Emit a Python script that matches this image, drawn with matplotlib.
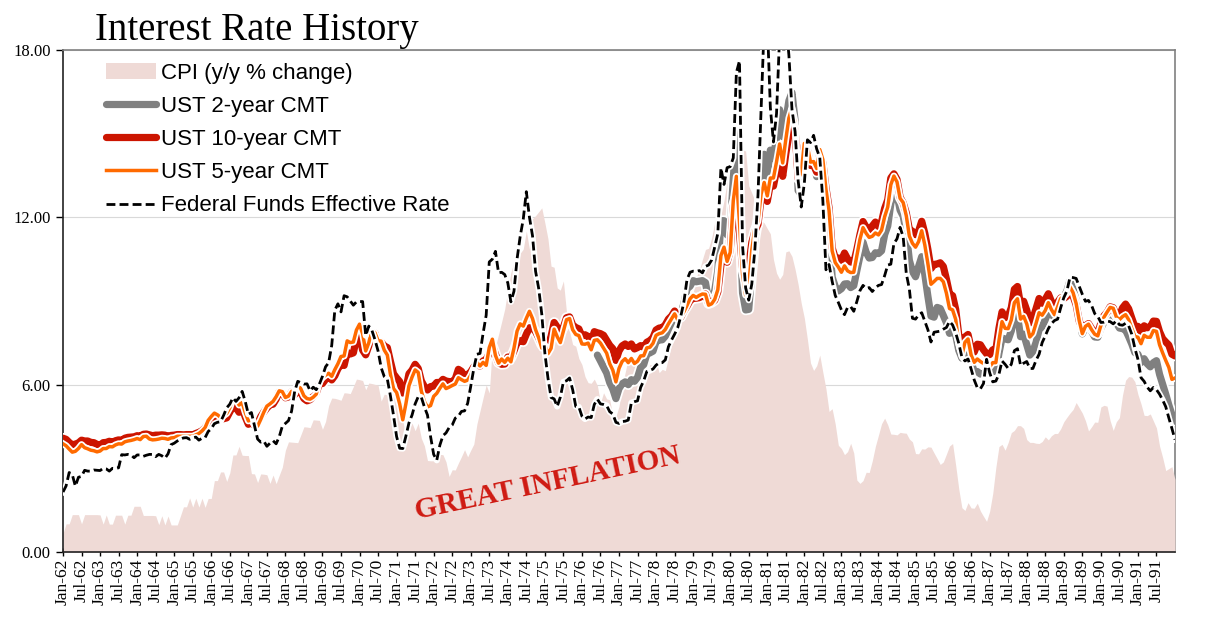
import numpy as np
import matplotlib
matplotlib.use("Agg")
import matplotlib.pyplot as plt
import matplotlib.patheffects as pe

# monthly values, Jan-62 .. Jan-92
cpi = [
    0.67, 1.01, 1.01, 1.34, 1.34, 1.34, 1.01, 1.34, 1.34, 1.34, 1.34, 1.34,  # 62
    1.33, 1.00, 1.33, 1.00, 1.00, 1.32, 1.32, 1.32, 1.00, 1.32, 1.32, 1.64,  # 63
    1.64, 1.64, 1.31, 1.31, 1.31, 1.31, 1.30, 0.98, 1.30, 0.97, 1.29, 0.97,  # 64
    0.97, 0.97, 1.29, 1.62, 1.62, 1.94, 1.61, 1.93, 1.61, 1.93, 1.60, 1.92,  # 65
    1.92, 2.56, 2.56, 2.87, 2.87, 2.53, 2.84, 3.48, 3.48, 3.79, 3.47, 3.46,  # 66
    3.46, 2.81, 2.80, 2.49, 2.80, 2.79, 2.77, 2.46, 2.76, 2.45, 2.75, 3.04,  # 67
    3.65, 3.95, 3.94, 3.93, 3.92, 4.20, 4.49, 4.48, 4.46, 4.74, 4.73, 4.72,  # 68
    4.40, 4.68, 5.25, 5.52, 5.51, 5.48, 5.44, 5.71, 5.70, 5.68, 5.93, 6.20,  # 69
    6.18, 6.15, 5.82, 6.06, 6.04, 6.01, 5.98, 5.41, 5.66, 5.63, 5.60, 5.57,  # 70
    5.29, 5.00, 4.71, 4.16, 4.40, 4.62, 4.35, 4.62, 4.08, 3.81, 3.28, 3.27,  # 71
    3.27, 3.51, 3.50, 3.49, 3.23, 2.71, 2.95, 2.94, 3.19, 3.42, 3.67, 3.41,  # 72
    3.65, 3.87, 4.59, 5.06, 5.53, 5.99, 5.70, 7.38, 7.36, 7.80, 8.25, 8.71,  # 73
    9.39, 10.02, 10.39, 10.09, 10.71, 10.86, 11.51, 10.86, 11.95, 12.06, 12.20, 12.34,  # 74
    11.80, 11.23, 10.25, 10.21, 9.47, 9.39, 9.72, 8.60, 7.91, 7.44, 7.38, 6.94,  # 75
    6.72, 6.29, 6.07, 6.05, 6.20, 5.97, 5.35, 5.71, 5.49, 5.46, 4.88, 4.86,  # 76
    5.22, 5.91, 6.44, 6.95, 6.73, 6.87, 6.83, 6.62, 6.60, 6.39, 6.72, 6.70,  # 77
    6.84, 6.43, 6.55, 6.50, 6.97, 7.41, 7.70, 7.86, 8.31, 8.93, 8.89, 9.02,  # 78
    9.28, 9.86, 10.09, 10.49, 10.85, 10.89, 11.26, 11.82, 12.18, 12.07, 12.61, 13.29,  # 79
    13.91, 14.18, 14.40, 14.50, 14.41, 14.38, 13.13, 12.87, 12.60, 12.20, 11.90, 11.80,  # 80
    11.60, 11.41, 10.49, 10.00, 9.78, 9.95, 10.76, 10.80, 10.60, 10.14, 9.59, 8.92,  # 81
    8.39, 7.62, 6.78, 6.51, 6.68, 7.06, 6.44, 5.85, 5.04, 5.14, 4.59, 3.83,  # 82
    3.71, 3.49, 3.60, 3.90, 3.55, 2.58, 2.46, 2.56, 2.86, 2.85, 3.27, 3.79,  # 83
    4.19, 4.60, 4.80, 4.56, 4.23, 4.22, 4.20, 4.29, 4.27, 4.26, 4.05, 3.95,  # 84
    3.53, 3.52, 3.70, 3.69, 3.77, 3.76, 3.55, 3.35, 3.14, 3.23, 3.51, 3.80,  # 85
    3.89, 3.11, 2.26, 1.59, 1.49, 1.77, 1.58, 1.57, 1.75, 1.47, 1.28, 1.10,  # 86
    1.46, 2.10, 3.03, 3.78, 3.86, 3.65, 3.93, 4.28, 4.36, 4.53, 4.53, 4.43,  # 87
    4.03, 3.93, 3.93, 3.90, 3.89, 3.96, 4.13, 4.02, 4.17, 4.25, 4.25, 4.42,  # 88
    4.67, 4.83, 4.98, 5.11, 5.36, 5.17, 4.98, 4.71, 4.34, 4.49, 4.66, 4.65,  # 89
    5.20, 5.26, 5.23, 4.71, 4.36, 4.67, 4.82, 5.62, 6.16, 6.29, 6.27, 6.11,  # 90
    5.65, 5.31, 4.90, 4.89, 4.95, 4.70, 4.45, 3.80, 3.39, 2.92, 2.99, 3.06,  # 91
    2.60,
]

fed_funds = [
    2.15, 2.37, 2.85, 2.78, 2.36, 2.68, 2.71, 2.93, 2.90, 2.90, 2.94, 2.93,
    2.92, 3.00, 2.98, 2.90, 3.00, 2.99, 3.02, 3.49, 3.48, 3.50, 3.48, 3.38,
    3.48, 3.48, 3.43, 3.47, 3.50, 3.50, 3.42, 3.50, 3.45, 3.36, 3.52, 3.85,
    3.90, 3.98, 4.04, 4.09, 4.10, 4.04, 4.09, 4.12, 4.01, 4.08, 4.10, 4.32,
    4.42, 4.60, 4.65, 4.67, 4.90, 5.17, 5.30, 5.53, 5.40, 5.53, 5.76, 5.40,
    4.94, 5.00, 4.53, 4.05, 3.94, 3.98, 3.79, 3.90, 3.99, 3.88, 4.13, 4.51,
    4.61, 4.71, 5.05, 5.76, 6.12, 6.07, 6.02, 6.03, 5.78, 5.91, 5.82, 6.02,
    6.30, 6.64, 6.79, 7.41, 8.67, 8.90, 8.61, 9.19, 9.15, 9.00, 8.85, 8.97,
    8.98, 8.98, 7.76, 8.10, 7.95, 7.61, 7.21, 6.61, 6.29, 6.20, 5.60, 4.90,
    4.14, 3.72, 3.71, 4.15, 4.63, 4.91, 5.31, 5.57, 5.55, 5.20, 4.91, 4.14,
    3.50, 3.29, 3.83, 4.17, 4.27, 4.46, 4.55, 4.80, 4.87, 5.04, 5.06, 5.33,
    5.94, 6.58, 7.09, 7.12, 7.84, 8.49, 10.40, 10.50, 10.78, 10.01, 10.03, 9.95,
    9.65, 8.97, 9.35, 10.51, 11.31, 11.93, 12.92, 12.01, 11.34, 10.06, 9.45, 8.53,
    7.13, 6.24, 5.54, 5.49, 5.22, 5.55, 6.10, 6.14, 6.24, 5.82, 5.22, 5.20,
    4.87, 4.77, 4.84, 4.82, 5.29, 5.48, 5.31, 5.29, 5.25, 5.03, 4.95, 4.65,
    4.61, 4.68, 4.69, 4.73, 5.35, 5.39, 5.42, 5.90, 6.14, 6.47, 6.51, 6.56,
    6.70, 6.78, 6.79, 6.89, 7.36, 7.60, 7.81, 8.04, 8.45, 8.96, 9.76, 10.03,
    10.07, 10.06, 10.09, 10.01, 10.24, 10.29, 10.47, 10.94, 11.43, 13.77, 13.18, 13.78,
    13.82, 14.13, 17.19, 17.61, 10.98, 9.47, 9.03, 9.61, 10.87, 12.81, 15.85, 18.90,
    19.08, 15.93, 14.70, 15.72, 18.52, 19.10, 19.04, 17.82, 15.87, 15.08, 13.31, 12.37,
    13.22, 14.78, 14.68, 14.94, 14.45, 14.15, 12.59, 10.12, 10.31, 9.71, 9.20, 8.95,
    8.68, 8.51, 8.77, 8.80, 8.63, 8.98, 9.37, 9.56, 9.45, 9.48, 9.34, 9.47,
    9.56, 9.59, 9.91, 10.29, 10.32, 11.06, 11.23, 11.64, 11.30, 9.99, 9.43, 8.38,
    8.35, 8.50, 8.58, 8.27, 7.97, 7.53, 7.88, 7.90, 7.92, 7.99, 8.05, 8.27,
    8.14, 7.86, 7.48, 6.99, 6.85, 6.92, 6.56, 6.17, 5.89, 5.85, 6.04, 6.91,
    6.43, 6.10, 6.13, 6.37, 6.85, 6.73, 6.58, 6.73, 7.22, 7.29, 6.69, 6.77,
    6.83, 6.58, 6.58, 6.87, 7.09, 7.51, 7.75, 8.01, 8.19, 8.30, 8.35, 8.76,
    9.12, 9.36, 9.85, 9.84, 9.81, 9.53, 9.24, 8.99, 9.02, 8.84, 8.55, 8.45,
    8.23, 8.24, 8.28, 8.26, 8.18, 8.29, 8.15, 8.13, 8.20, 8.11, 7.81, 7.31,
    6.91, 6.25, 6.12, 5.91, 5.78, 5.90, 5.82, 5.66, 5.45, 5.21, 4.81, 4.43,
    4.03,
]

ust10 = [
    4.08, 4.04, 3.93, 3.84, 3.87, 3.91, 4.01, 3.98, 3.98, 3.93, 3.92, 3.86,
    3.83, 3.92, 3.93, 3.97, 3.93, 3.99, 4.02, 4.00, 4.08, 4.11, 4.12, 4.13,
    4.17, 4.15, 4.22, 4.23, 4.20, 4.17, 4.19, 4.19, 4.20, 4.19, 4.15, 4.18,
    4.19, 4.21, 4.21, 4.20, 4.21, 4.21, 4.20, 4.25, 4.29, 4.35, 4.45, 4.62,
    4.61, 4.83, 4.87, 4.75, 4.78, 4.81, 5.02, 5.22, 5.18, 5.01, 5.16, 4.84,
    4.58, 4.63, 4.54, 4.59, 4.85, 5.02, 5.16, 5.28, 5.30, 5.48, 5.75, 5.70,
    5.53, 5.56, 5.74, 5.64, 5.87, 5.72, 5.50, 5.42, 5.46, 5.58, 5.70, 6.03,
    6.04, 6.19, 6.30, 6.17, 6.32, 6.57, 6.72, 6.69, 7.16, 7.10, 7.14, 7.65,
    7.79, 7.24, 7.07, 7.39, 7.91, 7.84, 7.46, 7.53, 7.39, 7.33, 6.84, 6.39,
    6.24, 6.11, 5.70, 5.83, 6.39, 6.52, 6.73, 6.58, 6.14, 5.93, 5.81, 5.93,
    5.95, 6.08, 6.07, 6.19, 6.13, 6.11, 6.11, 6.21, 6.55, 6.48, 6.28, 6.36,
    6.46, 6.64, 6.71, 6.67, 6.85, 6.90, 7.13, 7.40, 7.09, 6.79, 6.73, 6.74,
    6.99, 6.96, 7.21, 7.51, 7.58, 7.54, 7.81, 8.04, 8.04, 7.90, 7.68, 7.43,
    7.50, 7.39, 7.73, 8.23, 8.06, 7.86, 8.06, 8.40, 8.43, 8.14, 8.05, 8.00,
    7.74, 7.79, 7.73, 7.56, 7.90, 7.86, 7.83, 7.77, 7.59, 7.41, 7.29, 6.87,
    7.21, 7.39, 7.46, 7.37, 7.46, 7.28, 7.33, 7.40, 7.34, 7.52, 7.58, 7.69,
    7.96, 8.03, 8.04, 8.15, 8.35, 8.46, 8.64, 8.41, 8.42, 8.64, 8.81, 9.01,
    9.10, 9.10, 9.12, 9.18, 9.25, 8.91, 8.95, 9.03, 9.33, 10.30, 10.65, 10.39,
    10.80, 12.41, 12.75, 11.47, 10.18, 9.78, 10.25, 11.10, 11.51, 11.75, 12.68, 12.84,
    12.57, 13.19, 13.12, 13.68, 14.10, 13.47, 14.28, 14.94, 15.32, 15.15, 13.39, 13.72,
    14.59, 14.43, 13.86, 13.87, 13.62, 14.30, 13.95, 13.06, 12.34, 10.91, 10.55, 10.54,
    10.46, 10.72, 10.51, 10.40, 10.38, 10.85, 11.38, 11.85, 11.65, 11.54, 11.69, 11.83,
    11.67, 11.84, 12.32, 12.63, 13.41, 13.56, 13.36, 12.72, 12.52, 12.16, 11.57, 11.50,
    11.38, 11.51, 11.86, 11.43, 10.85, 10.16, 10.31, 10.33, 10.37, 10.24, 9.78, 9.26,
    9.19, 8.70, 7.78, 7.30, 7.71, 7.80, 7.30, 7.17, 7.45, 7.43, 7.25, 7.11,
    7.08, 7.25, 7.25, 8.02, 8.61, 8.40, 8.45, 8.76, 9.42, 9.52, 8.86, 8.99,
    8.67, 8.21, 8.37, 8.72, 9.09, 8.92, 9.06, 9.26, 8.98, 8.80, 8.96, 9.11,
    9.09, 9.17, 9.36, 9.18, 8.86, 8.28, 8.02, 8.11, 8.19, 8.01, 7.87, 7.84,
    8.21, 8.47, 8.59, 8.79, 8.76, 8.48, 8.47, 8.75, 8.89, 8.72, 8.39, 8.08,
    8.09, 7.85, 8.11, 8.04, 8.07, 8.28, 8.27, 7.90, 7.65, 7.53, 7.42, 7.09,
    7.03,
]

ust5 = [
    3.88, 3.81, 3.69, 3.58, 3.61, 3.71, 3.85, 3.74, 3.70, 3.65, 3.63, 3.59,
    3.62, 3.71, 3.71, 3.78, 3.77, 3.84, 3.88, 3.87, 3.95, 3.98, 4.00, 4.03,
    4.07, 4.03, 4.14, 4.15, 4.05, 4.02, 4.03, 4.05, 4.08, 4.07, 4.04, 4.09,
    4.10, 4.15, 4.15, 4.15, 4.15, 4.15, 4.15, 4.20, 4.25, 4.34, 4.46, 4.72,
    4.86, 4.98, 4.92, 4.83, 4.89, 4.97, 5.17, 5.50, 5.50, 5.27, 5.36, 5.00,
    4.70, 4.74, 4.54, 4.51, 4.75, 5.01, 5.23, 5.31, 5.40, 5.57, 5.78, 5.75,
    5.54, 5.59, 5.76, 5.69, 6.04, 5.85, 5.60, 5.50, 5.48, 5.55, 5.66, 6.12,
    6.25, 6.34, 6.41, 6.30, 6.54, 6.75, 7.01, 7.03, 7.57, 7.51, 7.53, 7.96,
    8.17, 7.82, 7.21, 7.50, 7.97, 7.86, 7.58, 7.56, 7.24, 7.06, 6.37, 5.86,
    5.72, 5.31, 4.74, 5.31, 5.96, 6.27, 6.53, 6.44, 5.77, 5.39, 5.20, 5.25,
    5.58, 5.69, 5.87, 6.03, 5.86, 5.91, 5.97, 6.02, 6.25, 6.18, 6.12, 6.16,
    6.34, 6.60, 6.80, 6.67, 6.80, 6.69, 7.33, 7.63, 7.05, 6.77, 6.92, 6.80,
    6.95, 6.82, 7.31, 7.92, 8.18, 8.10, 8.38, 8.63, 8.37, 7.97, 7.68, 7.31,
    7.41, 7.11, 7.30, 7.99, 7.72, 7.51, 7.92, 8.33, 8.37, 7.97, 7.80, 7.76,
    7.46, 7.45, 7.49, 7.25, 7.59, 7.61, 7.49, 7.31, 7.13, 6.75, 6.52, 6.10,
    6.58, 6.83, 6.93, 6.79, 6.94, 6.76, 6.84, 7.03, 7.04, 7.32, 7.34, 7.48,
    7.77, 7.83, 7.86, 7.98, 8.18, 8.36, 8.54, 8.33, 8.43, 8.61, 8.84, 9.08,
    9.20, 9.13, 9.20, 9.25, 9.24, 8.85, 8.90, 9.06, 9.41, 10.63, 10.93, 10.42,
    10.74, 12.60, 13.47, 11.84, 9.95, 9.21, 9.53, 10.84, 11.62, 11.86, 12.83, 13.25,
    12.77, 13.41, 13.41, 13.99, 14.63, 13.95, 14.79, 15.56, 15.93, 15.41, 13.38, 13.60,
    14.65, 14.54, 13.98, 14.00, 13.75, 14.43, 14.07, 13.00, 12.25, 10.80, 10.38, 10.22,
    10.03, 10.26, 10.08, 10.02, 10.03, 10.63, 11.21, 11.63, 11.43, 11.28, 11.32, 11.44,
    11.37, 11.54, 12.02, 12.37, 13.17, 13.48, 13.27, 12.68, 12.53, 12.06, 11.33, 11.07,
    10.93, 11.13, 11.52, 11.01, 10.34, 9.60, 9.70, 9.81, 9.81, 9.69, 9.28, 8.73,
    8.68, 8.34, 7.46, 7.05, 7.52, 7.64, 7.06, 6.80, 6.92, 6.83, 6.76, 6.67,
    6.64, 6.79, 6.79, 7.57, 8.26, 8.02, 8.01, 8.32, 8.94, 9.08, 8.35, 8.45,
    8.18, 7.71, 7.83, 8.19, 8.58, 8.49, 8.66, 8.94, 8.69, 8.51, 8.79, 9.09,
    9.15, 9.27, 9.51, 9.30, 8.91, 8.29, 7.83, 8.09, 8.17, 7.97, 7.81, 7.75,
    8.12, 8.42, 8.60, 8.77, 8.74, 8.43, 8.33, 8.44, 8.51, 8.33, 8.02, 7.73,
    7.70, 7.47, 7.77, 7.70, 7.70, 7.94, 7.91, 7.43, 7.14, 6.87, 6.62, 6.19,
    6.24,
]

# 2-year series starts Jun-76
ust2_start = 173
ust2 = [
    7.06, 6.85, 6.63, 6.42, 6.07, 5.84, 5.50,
    5.86, 6.03, 6.10, 6.00, 6.18, 6.12, 6.26, 6.62, 6.72, 7.09, 7.14, 7.20,
    7.54, 7.60, 7.61, 7.74, 7.99, 8.23, 8.47, 8.38, 8.54, 8.90, 9.43, 9.53,
    9.73, 9.69, 9.71, 9.73, 9.66, 9.02, 9.08, 9.38, 10.10, 11.88, 11.88, 11.37,
    11.54, 13.39, 15.00, 12.26, 9.29, 8.68, 8.70, 10.03, 11.26, 11.93, 13.42, 14.26,
    13.44, 14.41, 14.13, 14.84, 15.86, 14.89, 15.45, 16.18, 16.47, 15.48, 12.96, 12.82,
    14.14, 14.32, 13.87, 13.97, 13.46, 14.14, 13.57, 12.34, 11.43, 9.86, 9.52, 9.36,
    9.44, 9.61, 9.62, 9.48, 9.55, 10.09, 10.61, 11.11, 10.75, 10.54, 10.56, 10.73,
    10.70, 10.80, 11.38, 11.69, 12.49, 12.92, 12.82, 12.26, 12.04, 11.47, 10.46, 10.06,
    9.87, 10.24, 10.59, 9.95, 9.17, 8.46, 8.42, 8.77, 8.73, 8.48, 8.22, 7.84,
    7.89, 7.78, 7.23, 6.95, 7.30, 7.48, 6.81, 6.47, 6.47, 6.38, 6.40, 6.48,
    6.41, 6.50, 6.47, 7.12, 7.67, 7.64, 7.61, 7.93, 8.46, 8.50, 7.72, 7.81,
    7.44, 7.06, 7.19, 7.51, 7.97, 8.08, 8.33, 8.64, 8.50, 8.43, 8.66, 9.06,
    9.14, 9.36, 9.73, 9.44, 9.03, 8.43, 7.82, 8.06, 8.13, 7.91, 7.71, 7.70,
    8.02, 8.24, 8.37, 8.61, 8.56, 8.22, 8.03, 8.01, 7.96, 7.72, 7.46, 7.15,
    7.09, 6.79, 6.93, 6.75, 6.64, 6.79, 6.86, 6.37, 6.01, 5.66, 5.27, 4.93,
    4.69,
]

years = list(range(62, 92))
tick_labels = [f"{m}-{y}" for y in years for m in ("Jan", "Jul")]

x = np.arange(len(cpi))
x2 = np.arange(ust2_start, ust2_start + len(ust2))

fig = plt.figure(figsize=(12.05, 6.22), dpi=100)
ax = fig.add_axes([63 / 1205, 70 / 622, 1112 / 1205, 502 / 622])

ax.fill_between(x, 0, cpi, color="#EFDAD6", lw=0, zorder=1, label="CPI (y/y % change)")

halo = lambda w: [pe.Stroke(linewidth=w + 2.5, foreground="white"), pe.Normal()]
ax.plot(x2, ust2, color="#808080", lw=5.2, solid_capstyle="round", path_effects=halo(5.2),
        zorder=3, label="UST 2-year CMT")
ax.plot(x, ust10, color="#CC1500", lw=5.2, solid_capstyle="round", path_effects=halo(5.2),
        zorder=3, label="UST 10-year CMT")
ax.plot(x, ust5, color="#FF6A00", lw=2.5, path_effects=halo(2.5),
        zorder=4, label="UST 5-year CMT")
ax.plot(x, fed_funds, color="white", lw=4.5, zorder=5)
ax.plot(x, fed_funds, color="black", lw=2, ls=(0, (3.2, 1.5)), zorder=6,
        label="Federal Funds Effective Rate")

ax.text(157, 2.45, "GREAT INFLATION", color="#CF1A12", fontsize=21, fontweight="bold",
        family="Liberation Serif", rotation=12, ha="center", va="center", zorder=7)

ax.set_xlim(0, 360)
ax.set_ylim(0, 18)
ax.set_xticks(np.arange(0, 360, 6))
ax.set_xticklabels(tick_labels, rotation=90, family="Liberation Serif", fontsize=12.5)
ax.set_yticks([0, 6, 12, 18])
ax.set_yticklabels(["0.00", "6.00", "12.00", "18.00"], family="Liberation Serif", fontsize=12)
ax.tick_params(axis="x", direction="inout", length=6, width=1, pad=2)
ax.tick_params(axis="y", direction="out", length=5, width=1, pad=4)

ax.yaxis.grid(True, color="#D9D9D9", lw=0.8)
ax.set_axisbelow(True)
for side in ("left", "bottom"):
    ax.spines[side].set_color("#222222")
    ax.spines[side].set_linewidth(1.2)
for side in ("top", "right"):
    ax.spines[side].set_color("#808080")
    ax.spines[side].set_linewidth(1.2)
ax.spines["right"].set_zorder(0.8)

ax.legend(loc="upper left", bbox_to_anchor=(0.039, 0.975), frameon=False, borderpad=0,
          borderaxespad=0, handlelength=2.25, handletextpad=0.22, labelspacing=0.55,
          prop={"family": "Liberation Sans", "size": 16})

fig.text(95 / 1205, 1 - 40 / 622, "Interest Rate History", family="Liberation Serif",
         fontsize=28, va="baseline", ha="left")

fig.savefig("out.png", dpi=100)
